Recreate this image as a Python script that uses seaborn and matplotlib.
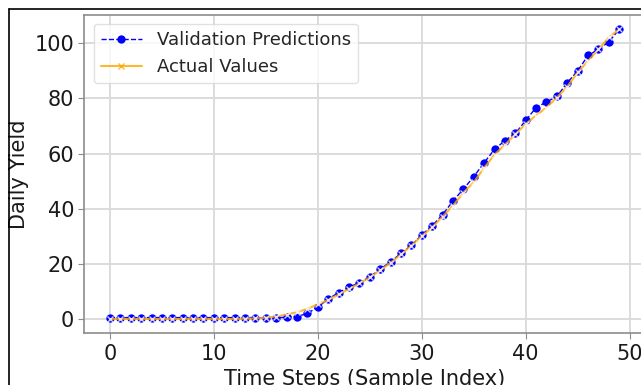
import numpy as np
import pandas as pd
import seaborn as sns
import matplotlib.pyplot as plt
from matplotlib.lines import Line2D

# sample index on the x axis
steps = list(range(50))

# validation predictions (blue dashed, circles)
val_pred = [0.5, 0.5, 0.5, 0.5, 0.5, 0.5, 0.5, 0.5, 0.5, 0.5,
            0.5, 0.5, 0.5, 0.5, 0.5, 0.4, 0.5, 0.6, 0.9, 2.0,
            4.4, 7.2, 9.6, 11.5, 13.2, 15.3, 18.0, 20.8, 23.8, 26.7,
            30.5, 33.8, 37.8, 42.8, 47.1, 51.6, 56.7, 61.5, 64.7, 67.3,
            72.0, 76.7, 78.7, 80.7, 85.7, 90.0, 95.6, 97.8, 100.5, 105.1]

# actual values (orange line, x markers)
actual = [0.0, 0.0, 0.0, 0.0, 0.0, 0.0, 0.0, 0.0, 0.0, 0.0,
          0.0, 0.0, 0.0, 0.1, 0.2, 0.5, 0.9, 1.6, 2.5, 3.7,
          5.3, 6.9, 8.9, 10.9, 12.9, 15.1, 17.6, 20.4, 23.4, 26.6,
          30.1, 33.2, 37.1, 41.1, 45.8, 49.6, 54.8, 59.6, 63.2, 67.0,
          70.7, 73.8, 76.7, 80.3, 84.3, 89.4, 93.6, 97.8, 102.1, 105.1]

df = pd.DataFrame({"step": steps, "pred": val_pred, "actual": actual})

sns.set_style("whitegrid", {"axes.edgecolor": "0.55", "grid.color": "0.85",
                            "xtick.bottom": True, "ytick.left": True})
plt.rcParams['font.family'] = ['DejaVu Sans']

fig = plt.figure(figsize=(6.41, 3.85), dpi=100)
ax = fig.add_axes([0.1318, 0.1338, 0.874, 0.828])

pred_style = dict(color="blue", linestyle="--", marker="o", markersize=6,
                  markeredgewidth=0, linewidth=1)
act_style = dict(color="orange", alpha=0.8, linestyle="-", marker="x",
                 markersize=4.5, markeredgewidth=1, linewidth=1.5)

sns.lineplot(data=df, x="step", y="pred", ax=ax, legend=False, **pred_style)
sns.lineplot(data=df, x="step", y="actual", ax=ax, legend=False, **act_style)

ax.set_xlabel("Time Steps (Sample Index)", fontsize=15, color="0.1")
ax.set_ylabel("Daily Yield", fontsize=15, color="0.1")
ax.set_xticks([0, 10, 20, 30, 40, 50])
ax.set_yticks([0, 20, 40, 60, 80, 100])
ax.tick_params(labelsize=15, colors="0.55", labelcolor="0.1", length=4)
ax.grid(True, linewidth=1.3)
for s in ax.spines.values():
    s.set_linewidth(1.2)

handles = [Line2D([], [], **pred_style), Line2D([], [], **act_style)]
ax.legend(handles=handles, labels=["Validation Predictions", "Actual Values"],
          loc="upper left", fontsize=13, frameon=True, framealpha=0.8,
          edgecolor="0.85", borderaxespad=0.5, handlelength=2.3)

# screenshot border (top and left)
fig.add_artist(Line2D([9 / 641, 1], [1 - 9 / 385, 1 - 9 / 385], color="black", lw=1.2))
fig.add_artist(Line2D([9 / 641, 9 / 641], [0, 1 - 9 / 385], color="black", lw=1.2))

fig.savefig("out.png", dpi=100)
